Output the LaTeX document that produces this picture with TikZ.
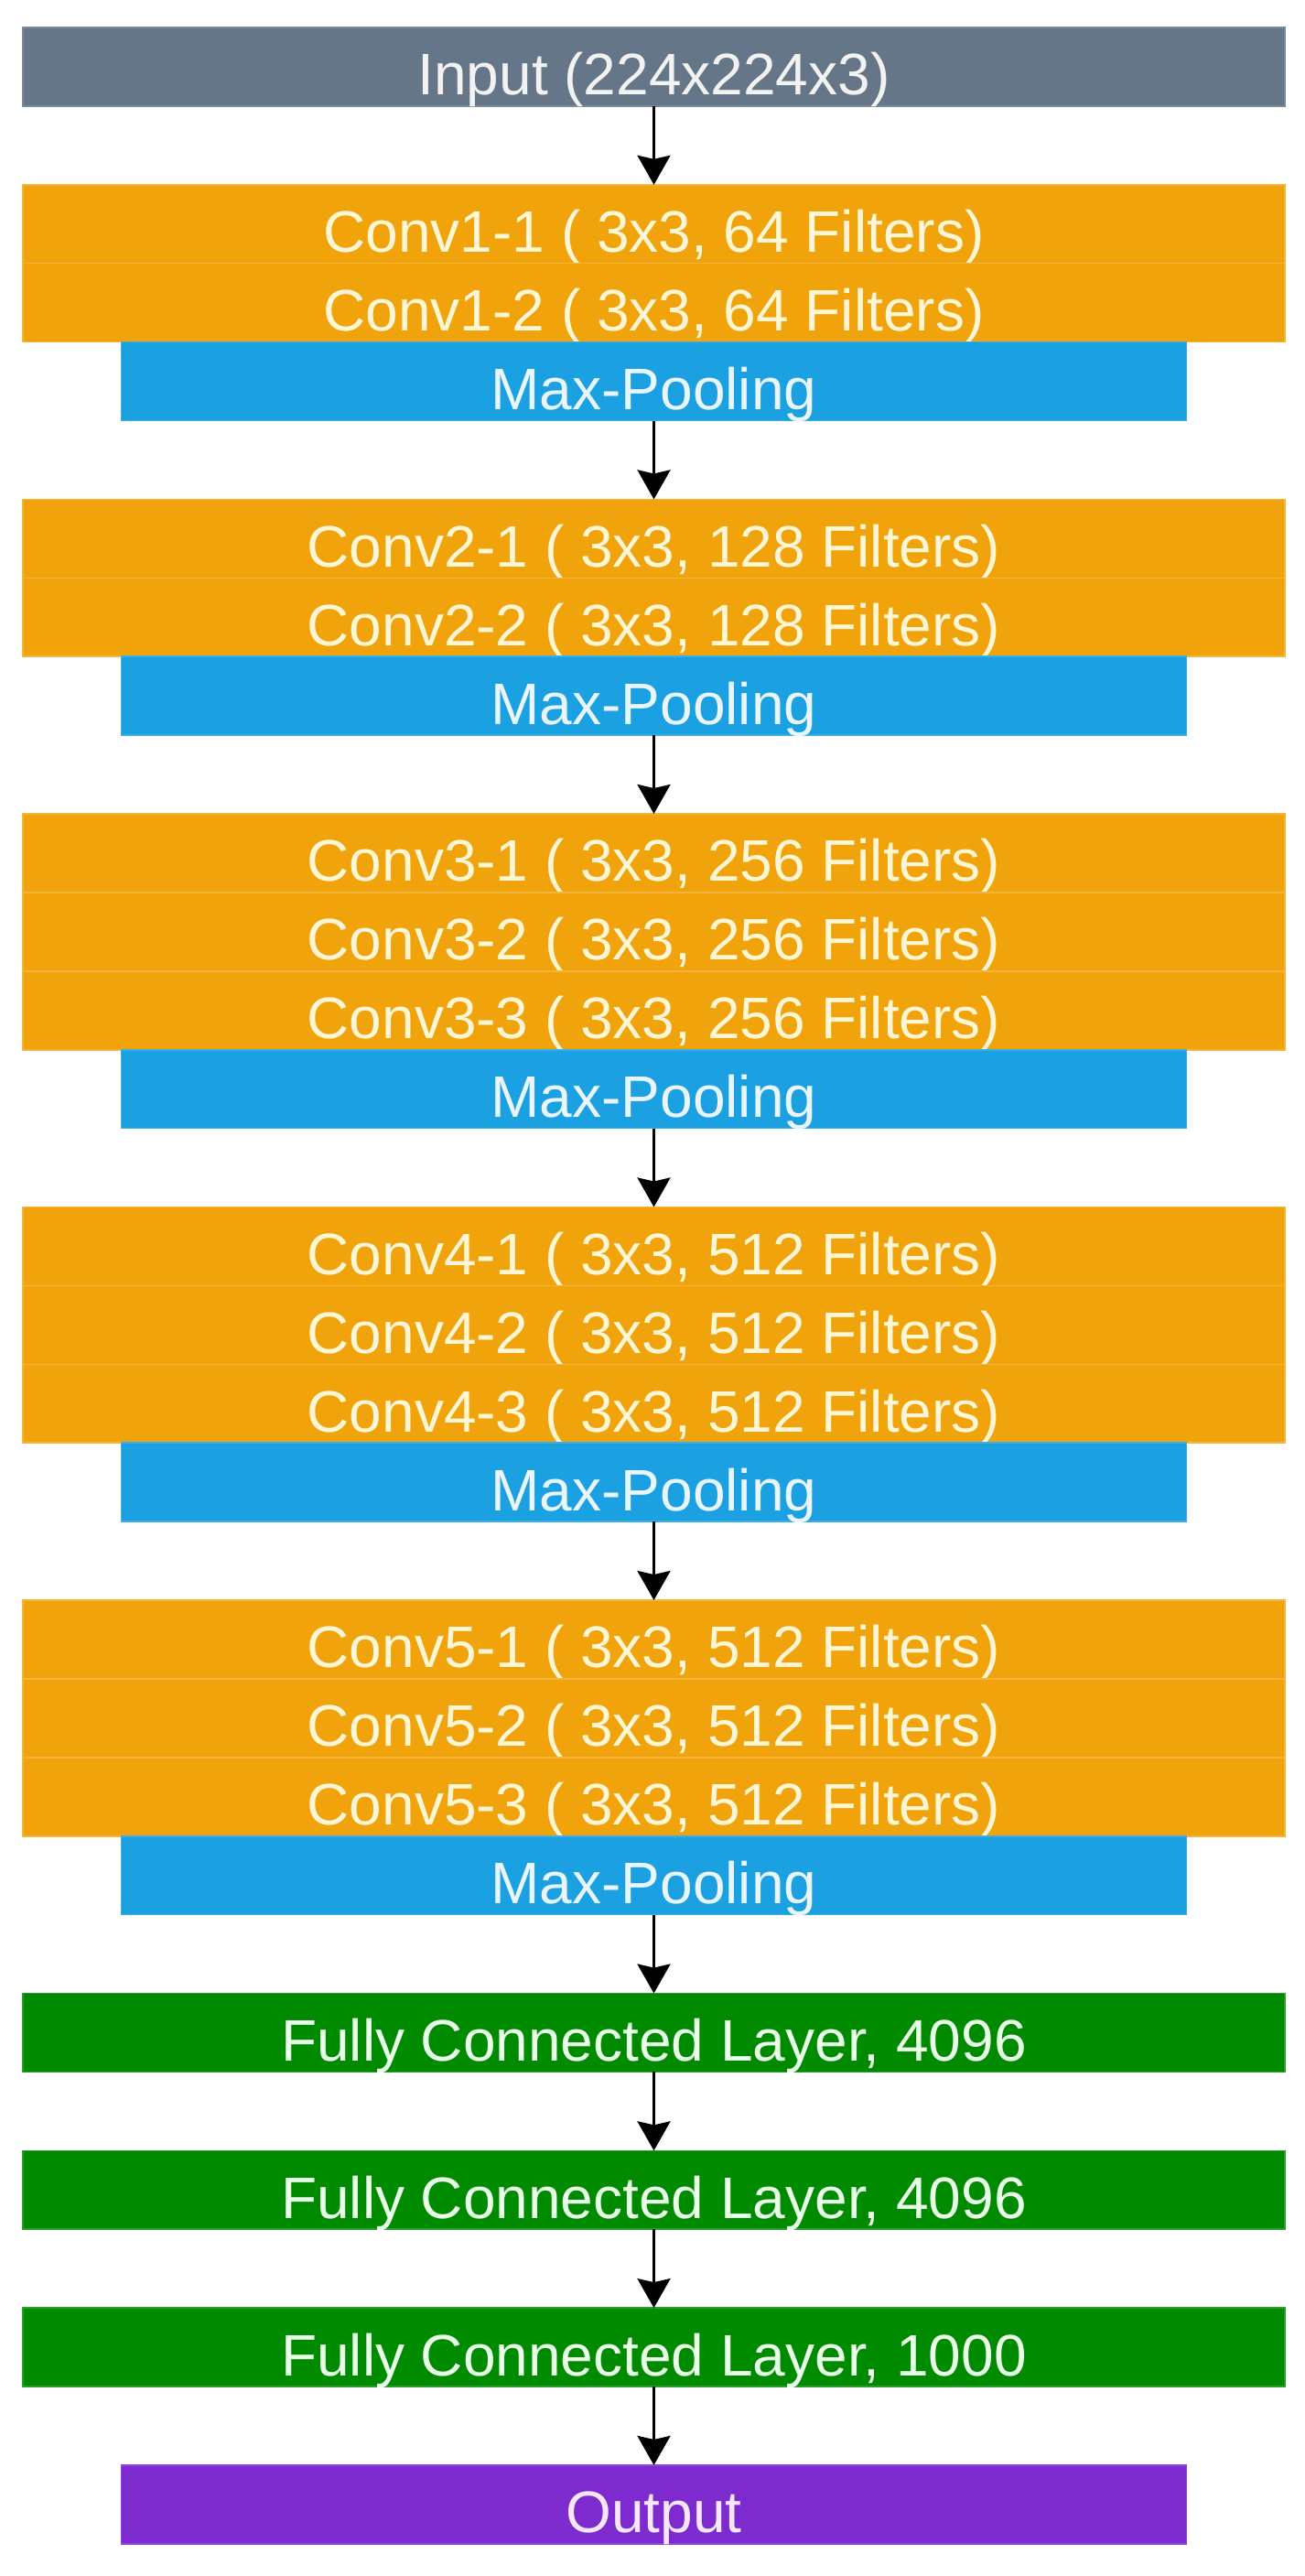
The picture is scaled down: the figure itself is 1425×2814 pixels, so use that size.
\documentclass[tikz,border=0pt]{standalone}
\usepackage{fontspec}
\setmainfont{Liberation Sans}
\usetikzlibrary{arrows.meta}
\definecolor{cgray}{HTML}{647687}
\definecolor{cgrayline}{HTML}{7A8A9A}
\definecolor{corange}{HTML}{F0A30A}
\definecolor{corangeline}{HTML}{F4B53C}
\definecolor{cblue}{HTML}{1BA1E2}
\definecolor{cblueline}{HTML}{3AAEE6}
\definecolor{cgreen}{HTML}{008A00}
\definecolor{cgreenline}{HTML}{2A9E2A}
\definecolor{cpurple}{HTML}{7D2BCF}
\definecolor{cpurpleline}{HTML}{9048D8}
\definecolor{tgray}{HTML}{F2F2F2}
\definecolor{torange}{HTML}{FFF6D6}
\definecolor{tblue}{HTML}{EAF6FF}
\definecolor{tgreen}{HTML}{E8FFE8}
\definecolor{tpurple}{HTML}{F6E6FF}
\begin{document}
\begin{tikzpicture}[x=0.5pt,y=-0.5pt,
  layer/.style={inner sep=0pt, outer sep=0pt, minimum height=42.95pt,
    text height=33pt, text depth=2pt, line width=0.8pt,
    font=\fontsize{32pt}{36pt}\selectfont, anchor=north},
  wide/.style={layer, minimum width=689.5pt},
  narrow/.style={layer, minimum width=582pt},
  inbox/.style={wide, fill=cgray, draw=cgrayline, text=tgray},
  convbox/.style={wide, fill=corange, draw=corangeline, text=torange},
  poolbox/.style={narrow, fill=cblue, draw=cblueline, text=tblue},
  fcbox/.style={wide, fill=cgreen, draw=cgreenline, text=tgreen},
  outbox/.style={narrow, fill=cpurple, draw=cpurpleline, text=tpurple},
  link/.style={-{Stealth[length=16pt,width=18pt,inset=2pt]}, line width=1.5pt, black}
]
\useasboundingbox (0,0) rectangle (1425,2814);
\fill[white] (0,0) rectangle (1425,2814);

\node[inbox] (in) at (714.5,30) {Input (224x224x3)};

\node[convbox] (c11) at (714.5,201.8) {Conv1-1 ( 3x3, 64 Filters)};
\node[convbox] (c12) at (714.5,287.7) {Conv1-2 ( 3x3, 64 Filters)};
\node[poolbox] (p1) at (714.5,373.6) {Max-Pooling};

\node[convbox] (c21) at (714.5,545.4) {Conv2-1 ( 3x3, 128 Filters)};
\node[convbox] (c22) at (714.5,631.3) {Conv2-2 ( 3x3, 128 Filters)};
\node[poolbox] (p2) at (714.5,717.2) {Max-Pooling};

\node[convbox] (c31) at (714.5,889) {Conv3-1 ( 3x3, 256 Filters)};
\node[convbox] (c32) at (714.5,974.9) {Conv3-2 ( 3x3, 256 Filters)};
\node[convbox] (c33) at (714.5,1060.8) {Conv3-3 ( 3x3, 256 Filters)};
\node[poolbox] (p3) at (714.5,1146.7) {Max-Pooling};

\node[convbox] (c41) at (714.5,1318.5) {Conv4-1 ( 3x3, 512 Filters)};
\node[convbox] (c42) at (714.5,1404.4) {Conv4-2 ( 3x3, 512 Filters)};
\node[convbox] (c43) at (714.5,1490.3) {Conv4-3 ( 3x3, 512 Filters)};
\node[poolbox] (p4) at (714.5,1576.2) {Max-Pooling};

\node[convbox] (c51) at (714.5,1748) {Conv5-1 ( 3x3, 512 Filters)};
\node[convbox] (c52) at (714.5,1833.9) {Conv5-2 ( 3x3, 512 Filters)};
\node[convbox] (c53) at (714.5,1919.8) {Conv5-3 ( 3x3, 512 Filters)};
\node[poolbox] (p5) at (714.5,2005.7) {Max-Pooling};

\node[fcbox] (f1) at (714.5,2177.5) {Fully Connected Layer, 4096};
\node[fcbox] (f2) at (714.5,2349.3) {Fully Connected Layer, 4096};
\node[fcbox] (f3) at (714.5,2521.1) {Fully Connected Layer, 1000};
\node[outbox] (out) at (714.5,2692.9) {Output};

\draw[link] (in.south) -- (c11.north);
\draw[link] (p1.south) -- (c21.north);
\draw[link] (p2.south) -- (c31.north);
\draw[link] (p3.south) -- (c41.north);
\draw[link] (p4.south) -- (c51.north);
\draw[link] (p5.south) -- (f1.north);
\draw[link] (f1.south) -- (f2.north);
\draw[link] (f2.south) -- (f3.north);
\draw[link] (f3.south) -- (out.north);
\end{tikzpicture}
\end{document}
